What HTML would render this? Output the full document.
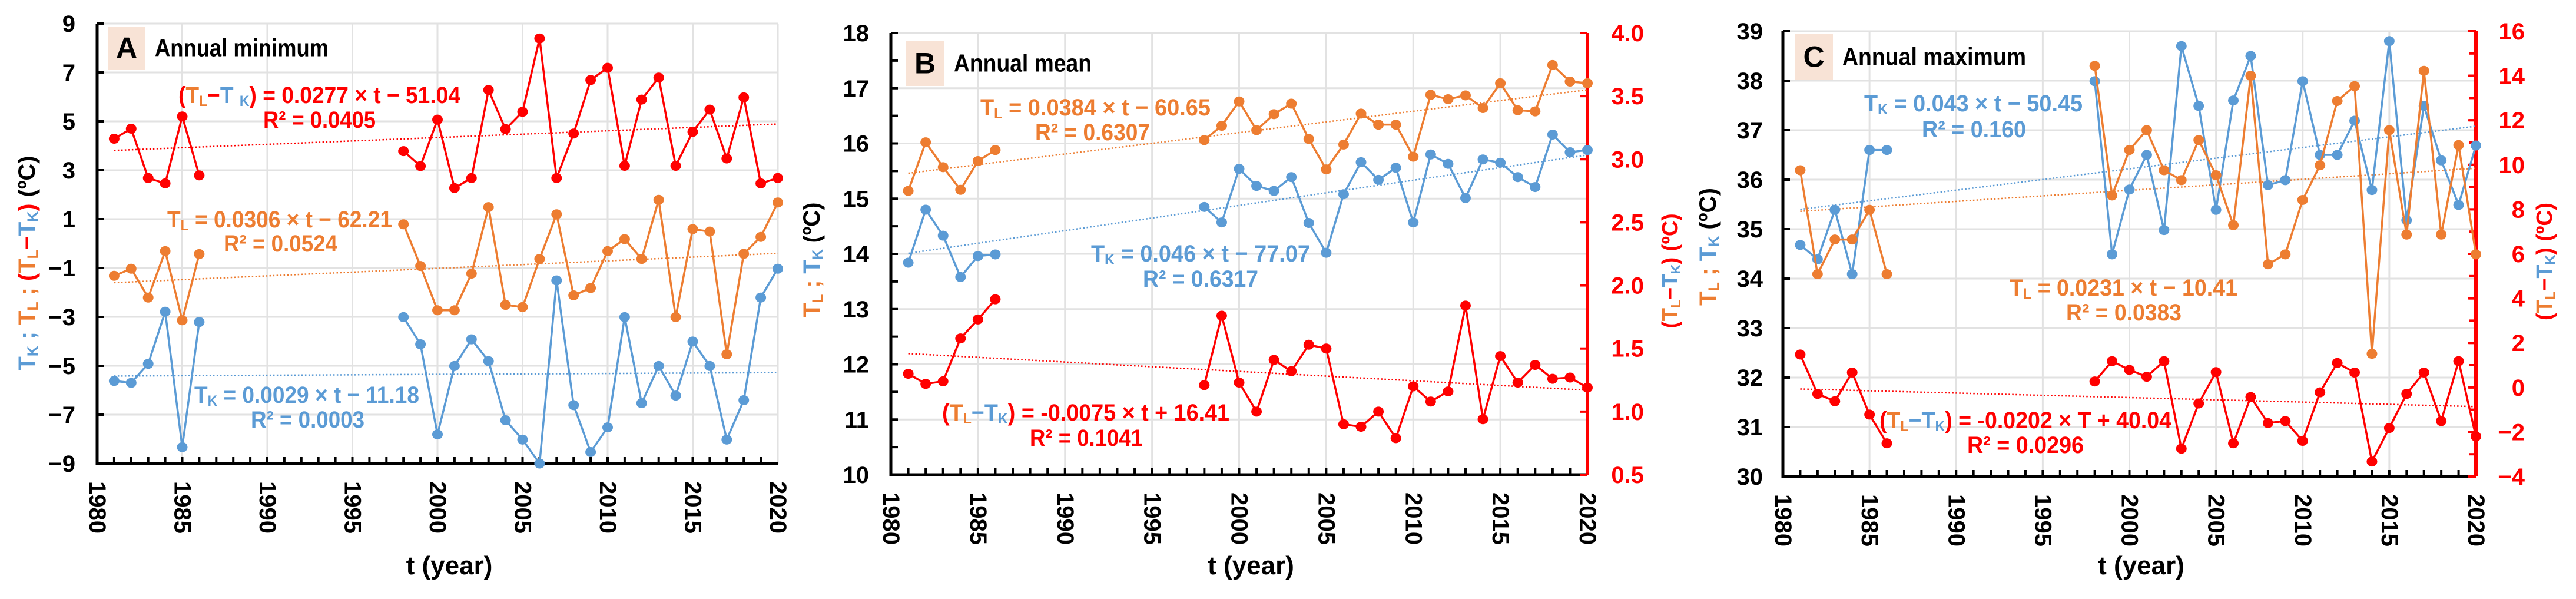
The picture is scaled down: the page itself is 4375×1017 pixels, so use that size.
<!DOCTYPE html>
<html><head><meta charset="utf-8"><style>
html,body{margin:0;padding:0;background:#fff;}
svg{display:block;font-family:"Liberation Sans",sans-serif;font-weight:bold;}
</style></head><body>
<svg id="chart" width="4375" height="1017" viewBox="0 0 4375 1017" xmlns="http://www.w3.org/2000/svg"></svg>
<script>
const years = [1981,1982,1983,1984,1985,1986,1998,1999,2000,2001,2002,2003,2004,2005,2006,2007,2008,2009,2010,2011,2012,2013,2014,2015,2016,2017,2018,2019,2020];
const trendYears = [1981,2020];
const xTickLabels = ["1980","1985","1990","1995","2000","2005","2010","2015","2020"];
// Panel A annual minimum
const aDiff = [4.29,4.70,2.68,2.46,5.20,2.79,3.78,3.17,5.07,2.27,2.68,6.28,4.68,5.39,8.39,2.68,4.50,6.69,7.19,3.18,5.89,6.79,3.18,4.57,5.48,3.48,5.98,2.46,2.68];
const aTL = [-1.32,-1.03,-2.21,-0.31,-3.14,-0.43,0.79,-0.92,-2.73,-2.73,-1.23,1.49,-2.51,-2.60,-0.63,1.20,-2.12,-1.82,-0.31,0.18,-0.63,1.79,-3.01,0.59,0.49,-4.53,-0.42,0.27,1.68];
const aTK = [-5.62,-5.70,-4.92,-2.79,-8.33,-3.21,-3.01,-4.12,-7.81,-5.01,-3.92,-4.81,-7.23,-8.02,-9.0,-1.51,-6.61,-8.53,-7.52,-3.01,-6.53,-5.01,-6.22,-4.01,-5.01,-8.02,-6.41,-2.21,-1.03];
const aTrendDiff = [3.81,4.89];
const aTrendTL = [-1.60,-0.40];
const aTrendTK = [-5.42,-5.28];
const aLeftTicks = [-9,-7,-5,-3,-1,1,3,5,7,9];
// Panel B annual mean
const bTL = [15.14,16.02,15.57,15.16,15.68,15.88,16.06,16.32,16.76,16.24,16.53,16.72,16.08,15.53,15.98,16.54,16.34,16.34,15.76,16.88,16.80,16.87,16.64,17.09,16.60,16.58,17.42,17.12,17.09];
const bTK = [13.84,14.80,14.33,13.58,13.96,13.99,14.85,14.57,15.54,15.23,15.14,15.39,14.56,14.02,15.08,15.66,15.34,15.56,14.57,15.80,15.63,15.01,15.71,15.65,15.39,15.21,16.16,15.84,15.88];
const bDiff = [1.30,1.22,1.24,1.58,1.73,1.89,1.21,1.76,1.23,1.00,1.41,1.32,1.53,1.50,0.90,0.88,1.00,0.79,1.20,1.08,1.16,1.84,0.94,1.44,1.23,1.37,1.26,1.27,1.19];
const bTrendTL = [15.46,16.97];
const bTrendTK = [14.01,15.79];
const bTrendDiff = [1.46,1.17];
const bLeftTicks = [10,11,12,13,14,15,16,17,18];
const bRightTicks = ["0.5","1.0","1.5","2.0","2.5","3.0","3.5","4.0"];
// Panel C annual maximum
const cTK = [34.68,34.39,35.39,34.09,36.60,36.60,37.99,34.49,35.80,36.50,34.98,38.70,37.49,35.39,37.60,38.50,35.89,35.99,37.99,36.50,36.50,37.19,35.79,38.80,35.18,37.49,36.39,35.49,36.69];
const cTL = [36.19,34.09,34.79,34.79,35.39,34.09,38.30,35.68,36.60,37.00,36.19,35.99,36.80,36.09,35.08,38.10,34.29,34.49,35.59,36.29,37.59,37.89,32.48,37.00,34.89,38.20,34.89,36.70,34.49];
const cDiff = [1.48,-0.29,-0.62,0.67,-1.22,-2.51,0.27,1.18,0.79,0.48,1.18,-2.75,-0.72,0.69,-2.51,-0.43,-1.60,-1.51,-2.40,-0.22,1.10,0.67,-3.33,-1.82,-0.29,0.67,-1.51,1.18,-2.20];
const cTrendTK = [35.40,37.08];
const cTrendTL = [35.36,36.23];
const cTrendDiff = [-0.07,-0.86];
const cLeftTicks = [30,31,32,33,34,35,36,37,38,39];
const cRightTicks = [-4,-2,0,2,4,6,8,10,12,14,16];

const BLUE="#5b9bd5", ORANGE="#ed7d31", RED="#ff0000";
const svg=document.getElementById('chart');
const NS="http://www.w3.org/2000/svg";
function mk(tag,attrs,parent){const e=document.createElementNS(NS,tag);for(const k in attrs)e.setAttribute(k,attrs[k]);(parent||svg).appendChild(e);return e;}
function fmtNum(v){return v<0?"\u2212"+Math.abs(v):String(v);}

const panels=[
 {id:'a',x0:165,x1:1321,y0:40,y1:787,lmin:-9,lmax:9,rmin:null,rmax:null},
 {id:'b',x0:1513,x1:2696,y0:56,y1:806,lmin:10,lmax:18,rmin:0.5,rmax:4.0},
 {id:'c',x0:3028,x1:4205,y0:53,y1:809,lmin:30,lmax:39,rmin:-4,rmax:16}
];
function xs(p,yr){return p.x0+(yr-1980)/40*(p.x1-p.x0);}
function ysL(p,v){return p.y1-(v-p.lmin)/(p.lmax-p.lmin)*(p.y1-p.y0);}
function ysR(p,v){return p.y1-(v-p.rmin)/(p.rmax-p.rmin)*(p.y1-p.y0);}

function frame(p,leftTicks,rightTicks,leftX,rightX){
  const g=mk('g',{});
  
  
  // vertical gridlines
  for(let yr=1985;yr<=2020;yr+=5){
    const l=mk('line',{x1:xs(p,yr),x2:xs(p,yr),y1:p.y0,y2:p.y1,stroke:'#e2e2e2','stroke-width':3},g);
    
    
  }
  leftTicks.forEach(v=>{
    const y=ysL(p,v);
    if(v!==p.lmin){
      const gl=mk('line',{x1:p.x0,x2:p.x1,y1:y,y2:y,stroke:'#e2e2e2','stroke-width':3},g);
      
      
    }
    mk('line',{x1:p.x0,x2:p.x0+12,y1:y,y2:y,stroke:'#000','stroke-width':4},g);
    const t=mk('text',{x:leftX,y:y+14,'text-anchor':'end','font-size':40,fill:'#000'},g);
    t.textContent=fmtNum(v);
    
    
  });
  if(p.id==='b'){for(let v=10.5;v<18;v+=1){const y=ysL(p,v);mk('line',{x1:p.x0,x2:p.x0+12,y1:y,y2:y,stroke:'#000','stroke-width':4},g);}}
  // x ticks
  for(let yr=1981;yr<=2019;yr++){mk('line',{x1:xs(p,yr),x2:xs(p,yr),y1:p.y1,y2:p.y1-11,stroke:'#000','stroke-width':4},g);}
  xTickLabels.forEach(s=>{
    const x=xs(p,+s);
    const t=mk('text',{transform:'translate('+x+','+(p.y1+30)+') rotate(90)','dominant-baseline':'central','font-size':40,fill:'#000'},g);
    t.textContent=s;
    
    
  });
  const ax=mk('line',{x1:p.x0,x2:p.x0,y1:p.y0,y2:p.y1+2,stroke:'#000','stroke-width':5},g);
  
  
  const xa=mk('line',{x1:p.x0-2,x2:p.x1,y1:p.y1,y2:p.y1,stroke:'#000','stroke-width':5},g);
  
  
  if(rightTicks){
    const ra=mk('line',{x1:p.x1,x2:p.x1,y1:p.y0,y2:p.y1,stroke:RED,'stroke-width':6},g);
    
    
    if(p.id==='c'){for(let v=-3;v<16;v++){const y=ysR(p,v);mk('line',{x1:p.x1,x2:p.x1-12,y1:y,y2:y,stroke:RED,'stroke-width':4},g);}}
    rightTicks.forEach(s=>{
      const v=+s,y=ysR(p,v);
      mk('line',{x1:p.x1,x2:p.x1-13,y1:y,y2:y,stroke:RED,'stroke-width':4},g);
      const t=mk('text',{x:rightX,y:y+14,'text-anchor':'end','font-size':40,fill:RED},g);
      t.textContent=typeof s==='string'?s:fmtNum(s);
      
      
    });
  }
  const xt=mk('text',{x:(p.x0+p.x1)/2+20,y:975,'text-anchor':'middle','font-size':44,fill:'#000'},g);
  xt.textContent='t (year)';
  
  
}

function series(p,vals,scale,color,name){
  const g=mk('g',{});
  
  
  let d='';
  for(let i=0;i<years.length;i++){
    const x=xs(p,years[i]),y=scale(p,vals[i]);
    d+=(i===0||years[i]-years[i-1]>1?'M':'L')+x.toFixed(1)+','+y.toFixed(1);
  }
  mk('path',{d:d,fill:'none',stroke:color,'stroke-width':3.5},g);
  for(let i=0;i<years.length;i++){
    const c=mk('ellipse',{cx:xs(p,years[i]),cy:scale(p,vals[i]),rx:9,ry:8.5,fill:color},g);
    
    
  }
}
function trend(p,vals,scale,color,name){
  const l=mk('line',{x1:xs(p,trendYears[0]),x2:xs(p,trendYears[1]),y1:scale(p,vals[0]),y2:scale(p,vals[1]),stroke:color,'stroke-width':2.5,'stroke-dasharray':'2.5 3.5'});
  
  
}
function rich(parts,x,y,len,name,anchor,rot,size){
  const attrs={x:x,y:y,'font-size':size||40,textLength:len,lengthAdjust:'spacingAndGlyphs'};
  if(anchor)attrs['text-anchor']=anchor;
  if(rot)attrs.transform=rot;
  const t=mk('text',attrs);
  
  
  parts.forEach(pt=>{
    const s=mk('tspan',{fill:pt[1]},t);
    if(pt[2]){s.setAttribute('font-size',(size||40)*0.62);s.setAttribute('baseline-shift','-20%');}
    s.textContent=pt[0];
  });
  return t;
}
function label(x,y,w,h,letter,title,tx,tlen,name){
  const r=mk('rect',{x:x,y:y,width:w,height:h,fill:'#f8e3d6'});
  
  
  const l=mk('text',{x:x+w/2,y:y+h/2+17,'text-anchor':'middle','font-size':50,fill:'#000'});
  l.textContent=letter;
  
  
  const t=mk('text',{x:tx,y:y+h/2+14,'font-size':42,fill:'#000',textLength:tlen,lengthAdjust:'spacingAndGlyphs'});
  t.textContent=title;
  
  
}

const [A,B,C]=panels;
// Panel A
frame(A,aLeftTicks,null,128,null);
trend(A,aTrendDiff,ysL,RED,'a-diff-trendline');
trend(A,aTrendTL,ysL,ORANGE,'a-tl-trendline');
trend(A,aTrendTK,ysL,BLUE,'a-tk-trendline');
series(A,aDiff,ysL,RED,'a-diff-series');
series(A,aTL,ysL,ORANGE,'a-tl-series');
series(A,aTK,ysL,BLUE,'a-tk-series');
label(183,45,64,73,'A','Annual minimum',263,295,'panel-a');
rich([['(',RED],['T',ORANGE],['L',ORANGE,1],['\u2212',RED],['T ',BLUE],['K',BLUE,1],[') = 0.0277 \u00d7 t \u2212 51.04',RED]],303,175,479,'a-diff-equation');
rich([['R\u00b2 = 0.0405',RED]],447,217,191,'a-diff-r2');
rich([['T',ORANGE],['L',ORANGE,1],[' = 0.0306 \u00d7 t \u2212 62.21',ORANGE]],284,386,382,'a-tl-equation');
rich([['R\u00b2 = 0.0524',ORANGE]],380,427,193,'a-tl-r2');
rich([['T',BLUE],['K',BLUE,1],[' = 0.0029 \u00d7 t \u2212 11.18',BLUE]],330,684,382,'a-tk-equation');
rich([['R\u00b2 = 0.0003',BLUE]],426,726,193,'a-tk-r2');
rich([['T',BLUE],['K',BLUE,1],[' ; ',BLUE],['T',ORANGE],['L',ORANGE,1],[' ; ',ORANGE],['(',RED],['T',ORANGE],['L',ORANGE,1],['\u2212',RED],['T',BLUE],['K',BLUE,1],[')',RED],[' (\u00baC)','#000']],0,0,365,'a-y-axis-title','middle','translate(59,447) rotate(-90)');

// Panel B
frame(B,bLeftTicks,bRightTicks,1476,2792);
trend(B,bTrendTL,ysL,ORANGE,'b-tl-trendline');
trend(B,bTrendTK,ysL,BLUE,'b-tk-trendline');
trend(B,bTrendDiff,ysR,RED,'b-diff-trendline');
series(B,bTL,ysL,ORANGE,'b-tl-series');
series(B,bTK,ysL,BLUE,'b-tk-series');
series(B,bDiff,ysR,RED,'b-diff-series');
label(1538,69,66,77,'B','Annual mean',1620,234,'panel-b');
rich([['T',ORANGE],['L',ORANGE,1],[' = 0.0384 \u00d7 t \u2212 60.65',ORANGE]],1665,196,391,'b-tl-equation');
rich([['R\u00b2 = 0.6307',ORANGE]],1758,238,195,'b-tl-r2');
rich([['T',BLUE],['K',BLUE,1],[' = 0.046 \u00d7 t \u2212 77.07',BLUE]],1853,444,372,'b-tk-equation');
rich([['R\u00b2 = 0.6317',BLUE]],1941,487,196,'b-tk-r2');
rich([['(',RED],['T',ORANGE],['L',ORANGE,1],['\u2212T',BLUE],['K',BLUE,1],[') = -0.0075 \u00d7 t + 16.41',RED]],1600,714,488,'b-diff-equation');
rich([['R\u00b2 = 0.1041',RED]],1749,757,192,'b-diff-r2');
rich([['T',ORANGE],['L',ORANGE,1],[' ; ',ORANGE],['T',BLUE],['K',BLUE,1],[' (\u00baC)','#000']],0,0,195,'b-left-y-axis-title','middle','translate(1392,441) rotate(-90)');
rich([['(',RED],['T',ORANGE],['L',ORANGE,1],['\u2212',RED],['T',BLUE],['K',BLUE,1],[')',RED],[' (\u00baC)',RED]],0,0,195,'b-right-y-axis-title','middle','translate(2849,460) rotate(-90)',38);

// Panel C
frame(C,cLeftTicks,cRightTicks,2994,4288);
trend(C,cTrendTK,ysL,BLUE,'c-tk-trendline');
trend(C,cTrendTL,ysL,ORANGE,'c-tl-trendline');
trend(C,cTrendDiff,ysR,RED,'c-diff-trendline');
series(C,cTK,ysL,BLUE,'c-tk-series');
series(C,cTL,ysL,ORANGE,'c-tl-series');
series(C,cDiff,ysR,RED,'c-diff-series');
label(3048,58,65,77,'C','Annual maximum',3129,312,'panel-c');
rich([['T',BLUE],['K',BLUE,1],[' = 0.043 \u00d7 t \u2212 50.45',BLUE]],3166,189,371,'c-tk-equation');
rich([['R\u00b2 = 0.160',BLUE]],3264,233,177,'c-tk-r2');
rich([['T',ORANGE],['L',ORANGE,1],[' = 0.0231 \u00d7 t \u2212 10.41',ORANGE]],3413,502,387,'c-tl-equation');
rich([['R\u00b2 = 0.0383',ORANGE]],3509,544,196,'c-tl-r2');
rich([['(',RED],['T',ORANGE],['L',ORANGE,1],['\u2212T',BLUE],['K',BLUE,1],[') = -0.0202 \u00d7 T + 40.04',RED]],3192,727,496,'c-diff-equation');
rich([['R\u00b2 = 0.0296',RED]],3341,769,198,'c-diff-r2');
rich([['T',ORANGE],['L',ORANGE,1],[' ; ',ORANGE],['T',BLUE],['K',BLUE,1],[' (\u00baC)','#000']],0,0,200,'c-left-y-axis-title','middle','translate(2914,419) rotate(-90)');
rich([['(',RED],['T',ORANGE],['L',ORANGE,1],['\u2212',RED],['T',BLUE],['K',BLUE,1],[')',RED],[' (\u00baC)',RED]],0,0,200,'c-right-y-axis-title','middle','translate(4334,444) rotate(-90)',38);
</script>
</body></html>
